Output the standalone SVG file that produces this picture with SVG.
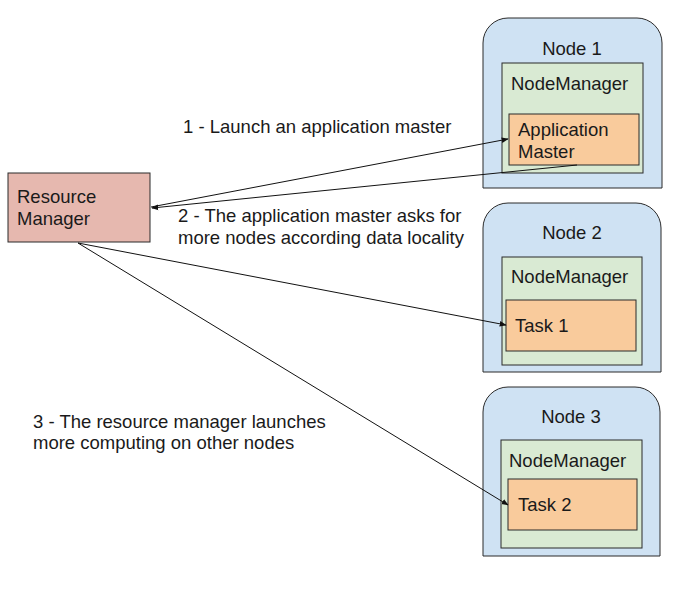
<svg xmlns="http://www.w3.org/2000/svg" width="700" height="590" viewBox="0 0 700 590">
<defs>
<style>
text{font-family:"Liberation Sans",Arial,sans-serif;font-size:18.5px;fill:#1a1a1a}
.node{fill:#cfe2f3;stroke:#2b2b2b;stroke-width:1}
.nm{fill:#d9ead3;stroke:#2b2b2b;stroke-width:1}
.task{fill:#f9cb9c;stroke:#2b2b2b;stroke-width:1}
.rm{fill:#e6b8af;stroke:#2b2b2b;stroke-width:1}
.conn line{stroke:#111;stroke-width:1;marker-end:url(#ah)}
</style>
<marker id="ah" viewBox="0 0 10 10" refX="9" refY="5" markerWidth="7" markerHeight="7" orient="auto" markerUnits="userSpaceOnUse">
<path d="M0,1 L10,5 L0,9 z" fill="#111"/>
</marker>
</defs>
<rect width="700" height="590" fill="#ffffff"/>

<g id="resource-manager">
<rect class="rm" x="8" y="173" width="142" height="69"/>
<text x="17" y="203">Resource</text>
<text x="17" y="225">Manager</text>
</g>

<g id="node1">
<path class="node" d="M483,188 V43 A25,25 0 0 1 508,18 H637 A25,25 0 0 1 662,43 V188 Z"/>
<text x="572" y="55" text-anchor="middle">Node 1</text>
<g id="nodemanager1">
<rect class="nm" x="502" y="63" width="141" height="110"/>
<text x="511" y="90">NodeManager</text>
</g>
<g id="appmaster">
<rect class="task" x="509" y="114" width="130" height="51"/>
<text x="518" y="136">Application</text>
<text x="518" y="158">Master</text>
</g>
</g>

<g id="node2">
<path class="node" d="M483,372 V228 A25,25 0 0 1 508,203 H636 A25,25 0 0 1 661,228 V372 Z"/>
<text x="572" y="239" text-anchor="middle">Node 2</text>
<g id="nodemanager2">
<rect class="nm" x="502" y="257" width="140" height="108"/>
<text x="511" y="283">NodeManager</text>
</g>
<g id="task1">
<rect class="task" x="506" y="300" width="130" height="51"/>
<text x="515" y="332">Task 1</text>
</g>
</g>

<g id="node3">
<path class="node" d="M483,556 V412 A25,25 0 0 1 508,387 H635 A25,25 0 0 1 660,412 V556 Z"/>
<text x="571" y="423" text-anchor="middle">Node 3</text>
<g id="nodemanager3">
<rect class="nm" x="501" y="440" width="141" height="108"/>
<text x="509" y="467">NodeManager</text>
</g>
<g id="task2">
<rect class="task" x="508" y="479" width="129" height="51"/>
<text x="518" y="511">Task 2</text>
</g>
</g>

<g id="connectors" class="conn">
<line x1="151" y1="207" x2="508" y2="139"/>
<line x1="577" y1="165" x2="152" y2="208"/>
<line x1="78" y1="243" x2="506" y2="325"/>
<line x1="78" y1="243" x2="508" y2="505"/>
</g>

<g id="labels">
<text x="183" y="133">1 - Launch an application master</text>
<text x="178" y="222">2 - The application master asks for</text>
<text x="178" y="244">more nodes according data locality</text>
<text x="33" y="428">3 - The resource manager launches</text>
<text x="33" y="449">more computing on other nodes</text>
</g>
</svg>
